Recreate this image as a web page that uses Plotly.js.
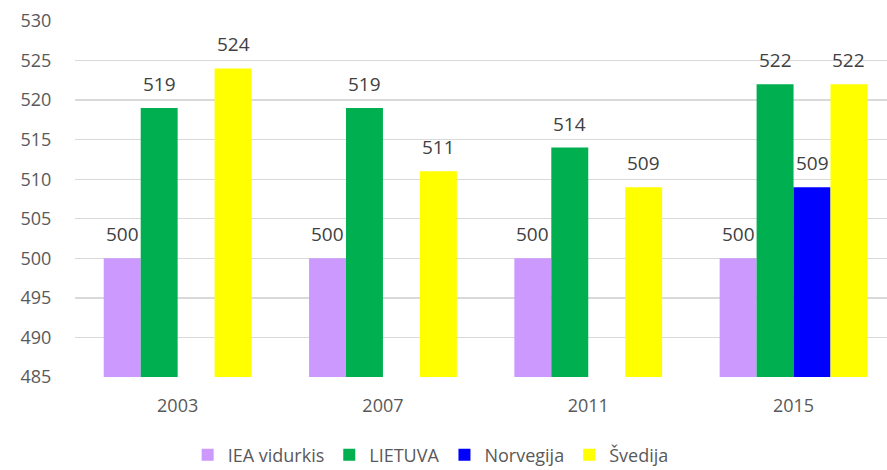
<!DOCTYPE html>
<html>
<head>
<meta charset="utf-8">
<script src="https://cdn.plot.ly/plotly-3.0.1.min.js"></script>
<style>html,body{margin:0;padding:0;background:#fff;}#chart{width:887px;height:470px;}</style>
</head>
<body>
<div id="chart"></div>
<script>
const years = ['2003', '2007', '2011', '2015'];
const seriesNames = ['IEA vidurkis', 'LIETUVA', 'Norvegija', 'Švedija'];
const ieaValues = [500, 500, 500, 500];
const lietuvaValues = [519, 519, 514, 522];
const norvegijaValues = [null, null, null, 509];
const svedijaValues = [524, 511, 509, 522];
const colors = ['#cc99ff', '#00b050', '#0000ff', '#ffff00'];

const allValues = [ieaValues, lietuvaValues, norvegijaValues, svedijaValues];
const font = 'Open Sans, Liberation Sans, sans-serif';
const bargap = 0.28;
const barW = (1 - bargap) / 4;

const traces = allValues.map((vals, s) => ({
  type: 'bar',
  name: seriesNames[s],
  x: years,
  y: vals,
  marker: {color: colors[s], line: {width: 0}},
  hoverinfo: 'none'
}));

const annotations = [];
allValues.forEach((vals, s) => {
  vals.forEach((v, i) => {
    if (v === null) return;
    annotations.push({
      x: i + (s - 1.5) * barW,
      y: v,
      xref: 'x', yref: 'y',
      text: String(v),
      showarrow: false,
      yanchor: 'bottom',
      yshift: 9,
      font: {family: font, size: 19, color: '#404040'}
    });
  });
});

const layout = {
  width: 887, height: 470,
  margin: {l: 75, r: 0, t: 21, b: 93, autoexpand: false},
  paper_bgcolor: '#ffffff',
  plot_bgcolor: '#ffffff',
  barmode: 'group',
  bargap: bargap,
  bargroupgap: 0,
  showlegend: true,
  legend: {
    orientation: 'h', x: 0.438, xanchor: 'center',
    yref: 'container', y: 0.032, yanchor: 'middle',
    font: {family: font, size: 18, color: '#595959'},
    traceorder: 'normal', itemclick: false
  },
  xaxis: {
    type: 'category',
    range: [-0.5, -0.5 + 812 / 205.3],
    showgrid: false, zeroline: false, showline: false,
    ticks: '',
    ticklabelstandoff: 16,
    tickfont: {family: font, size: 18, color: '#595959'}
  },
  yaxis: {
    range: [485, 530],
    tick0: 485, dtick: 5,
    showgrid: true, gridcolor: '#d9d9d9', gridwidth: 1.3,
    zeroline: false, showline: false,
    ticks: 'outside', ticklen: 19, tickcolor: 'rgba(0,0,0,0)',
    tickfont: {family: font, size: 18, color: '#595959'}
  },
  annotations: annotations
};

Plotly.newPlot('chart', traces, layout, {displayModeBar: false, staticPlot: true});
</script>
</body>
</html>
